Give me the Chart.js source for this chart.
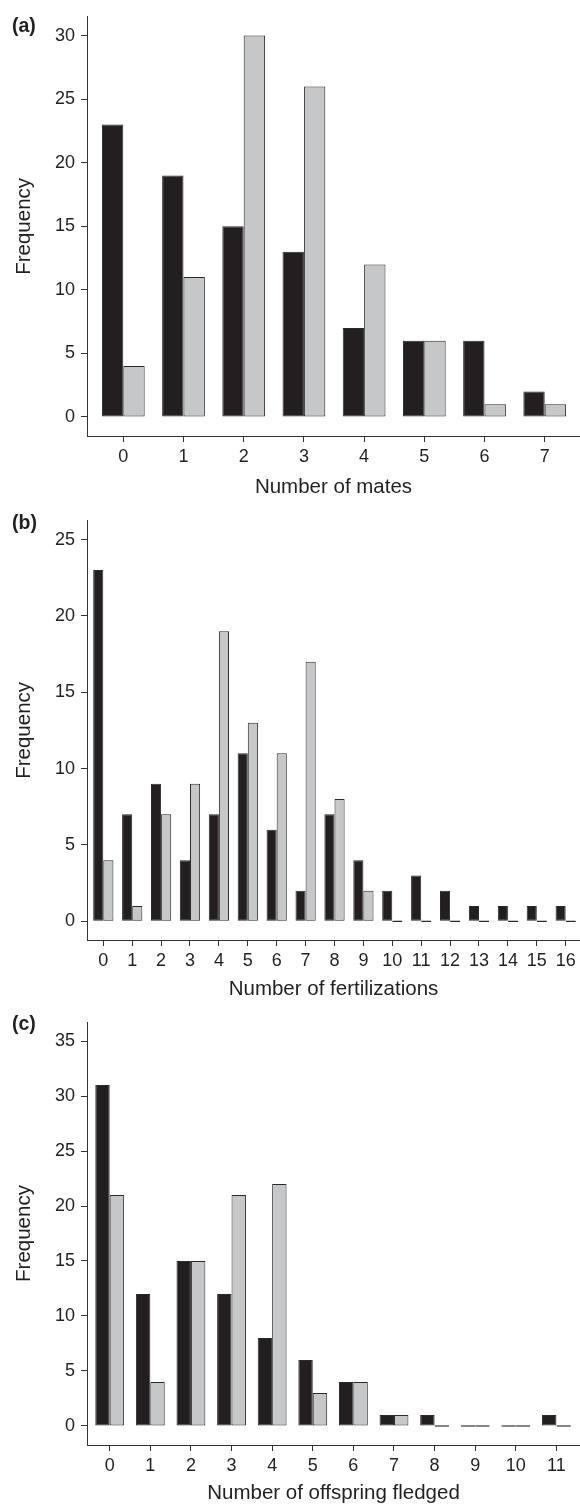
<!DOCTYPE html>
<html><head><meta charset="utf-8">
<script src="https://cdn.jsdelivr.net/npm/chart.js@4.4.0/dist/chart.umd.min.js"></script>
<style>
html,body{margin:0;padding:0;background:#fff;}
body{width:580px;height:1507px;position:relative;overflow:hidden;font-family:'Liberation Sans',Arial,sans-serif;}
canvas{position:absolute;left:0;}
.lab{position:absolute;left:12px;font-weight:bold;font-size:19.5px;color:#231f20;line-height:20px;}
</style></head><body>
<canvas id="ca" width="580" height="504" style="top:0px"></canvas>
<canvas id="cb" width="580" height="501" style="top:504px"></canvas>
<canvas id="cc" width="580" height="502" style="top:1005px"></canvas>
<div class="lab" style="top:15px">(a)</div>
<div class="lab" style="top:512px">(b)</div>
<div class="lab" style="top:1013px">(c)</div>
<script>
// ---- data ----
const matesCategories = [0,1,2,3,4,5,6,7];
const matesTickLabels = ['0','1','2','3','4','5','6','7'];
const matesBlack = [23,19,15,13,7,6,6,2];
const matesGray  = [4,11,30,26,12,6,1,1];
const matesYTicks = [0,5,10,15,20,25,30];

const fertCategories = [0,1,2,3,4,5,6,7,8,9,10,11,12,13,14,15,16];
const fertTickLabels = ['0','1','2','3','4','5','6','7','8','9','10','11','12','13','14','15','16'];
const fertBlack = [23,7,9,4,7,11,6,2,7,4,2,3,2,1,1,1,1];
const fertGray  = [4,1,7,9,19,13,11,17,8,2,0,0,0,0,0,0,0];
const fertYTicks = [0,5,10,15,20,25];

const fledgedCategories = [0,1,2,3,4,5,6,7,8,9,10,11];
const fledgedTickLabels = ['0','1','2','3','4','5','6','7','8','9','10','11'];
const fledgedBlack = [31,12,15,12,8,6,4,1,1,0,0,1];
const fledgedGray  = [21,4,15,21,22,3,4,1,0,0,0,0];
const fledgedYTicks = [0,5,10,15,20,25,30,35];

const FONT = "'Liberation Sans', Arial, Helvetica, sans-serif";
const TXT = '#231f20';
const AX = '#333333';

function makePanel(id, cats, tickLabels, black, gray, yTicks, o) {
  const ds = (vals, color) => ({
    data: cats.map((c, i) => ({x: c, y: vals[i]})),
    backgroundColor: color,
    borderColor: '#2a2a2a',
    borderWidth: 1,
    borderSkipped: false,
    minBarLength: 1.5,
    categoryPercentage: o.cp,
    barPercentage: 1
  });
  new Chart(document.getElementById(id), {
    type: 'bar',
    data: {datasets: [ds(black, '#231f20'), ds(gray, '#c6c7c9')]},
    options: {
      responsive: false,
      animation: false,
      events: [],
      layout: {padding: {top: o.padTop, left: 0, right: 0, bottom: 0}},
      plugins: {legend: {display: false}, tooltip: {enabled: false}},
      scales: {
        x: {
          type: 'linear', min: o.xmin, max: o.xmax, offset: false,
          afterBuildTicks: s => { s.ticks = cats.map(v => ({value: v})); },
          afterFit: s => { s.height = o.xh; },
          grid: {offset: false, drawOnChartArea: false, drawTicks: true, tickLength: 6, color: AX, lineWidth: 1},
          border: {display: true, color: AX, width: 1},
          ticks: {autoSkip: false, maxRotation: 0, minRotation: 0, padding: 4, color: TXT,
                  font: {family: FONT, size: 18}, callback: (v, i) => tickLabels[i]},
          title: {display: true, text: o.xtitle, color: TXT, font: {family: FONT, size: 20.5},
                  padding: {top: 0, bottom: o.tpb}}
        },
        y: {
          type: 'linear', min: o.ymin, max: o.ymax,
          afterBuildTicks: s => { s.ticks = yTicks.map(v => ({value: v})); },
          afterFit: s => { s.width = 87; },
          grid: {drawOnChartArea: false, drawTicks: true, tickLength: 6, color: AX, lineWidth: 1},
          border: {display: true, color: AX, width: 1},
          ticks: {autoSkip: false, padding: 6, color: TXT, font: {family: FONT, size: 18}},
          title: {display: true, text: 'Frequency', color: TXT, font: {family: FONT, size: 20.5},
                  padding: {top: 12, bottom: 0}}
        }
      }
    }
  });
}

makePanel('ca', matesCategories, matesTickLabels, matesBlack, matesGray, matesYTicks,
  {cp: 0.71, padTop: 12, xh: 68, tpb: 4, xmin: -0.603, xmax: 7.586, ymin: -1.5, ymax: 31.48, xtitle: 'Number of mates'});
makePanel('cb', fertCategories, fertTickLabels, fertBlack, fertGray, fertYTicks,
  {cp: 0.70, padTop: 12, xh: 65, tpb: 3, xmin: -0.564, xmax: 16.495, ymin: -1.23, ymax: 26.23, xtitle: 'Number of fertilizations'});
makePanel('cc', fledgedCategories, fledgedTickLabels, fledgedBlack, fledgedGray, fledgedYTicks,
  {cp: 0.71, padTop: 17, xh: 62, tpb: 1, xmin: -0.559, xmax: 11.58, ymin: -1.73, ymax: 36.73, xtitle: 'Number of offspring fledged'});
</script>
</body></html>
